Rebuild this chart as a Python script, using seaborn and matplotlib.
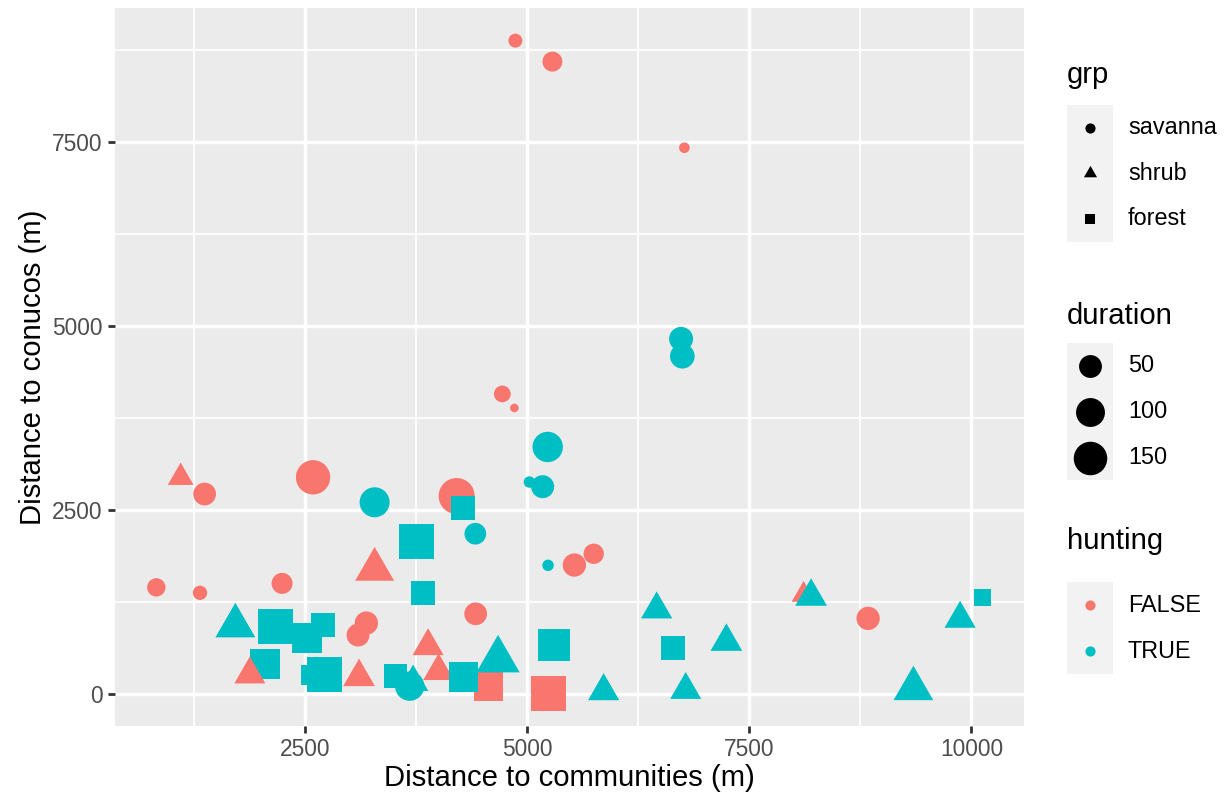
import numpy as np
import pandas as pd
import matplotlib
matplotlib.use("Agg")
import matplotlib.pyplot as plt
import seaborn as sns
from matplotlib.markers import MarkerStyle
from matplotlib.path import Path
from matplotlib.transforms import Affine2D
from matplotlib.patches import Rectangle

plt.rcParams['font.family'] = ['Liberation Sans', 'DejaVu Sans']

# ---------------- data ----------------
dist_communities = [2050,
    4865, 5282, 6768, 4718, 4854, 1096, 1366, 2587, 4204, 5747, 5529, 822, 1314,
    2238, 3280, 4418, 3187, 3093, 3882, 1875, 3105, 4001, 4561, 5242, 8111, 8837,
    6731, 6745, 5229, 5023, 5172, 3280, 4279, 4414, 3753, 5233, 3829, 1712, 2166,
    2523, 2703, 2568, 2717, 3514, 3713, 3675, 4279, 4670, 5302, 5859, 6456, 6644,
    6783, 7241, 8195, 9347, 9873, 10127]
dist_conucos = [408,
    8872, 8587, 7418, 4076, 3886, 2942, 2717, 2944, 2690, 1906, 1753, 1450, 1376,
    1504, 1693, 1091, 965, 802, 652, 268, 234, 313, 99, 11, 1349, 1029,
    4823, 4588, 3356, 2880, 2817, 2605, 2531, 2178, 2075, 1749, 1372, 928, 920,
    765, 938, 258, 268, 245, 163, 109, 235, 466, 668, 41, 1151, 629,
    58, 713, 1325, 75, 1024, 1314]
grp = ["forest",
    "savanna", "savanna", "savanna", "savanna", "savanna", "shrub", "savanna",
    "savanna", "savanna", "savanna", "savanna", "savanna", "savanna", "savanna",
    "shrub", "savanna", "savanna", "savanna", "shrub", "shrub", "shrub", "shrub",
    "forest", "forest", "shrub", "savanna",
    "savanna", "savanna", "savanna", "savanna", "savanna", "savanna", "forest",
    "savanna", "forest", "savanna", "forest", "shrub", "forest", "forest",
    "forest", "forest", "forest", "forest", "shrub", "savanna", "forest", "shrub",
    "forest", "shrub", "shrub", "forest", "shrub", "shrub", "shrub", "shrub",
    "shrub", "forest"]
hunting = [True] + [False] * 26 + [True] * 32
duration = [124,
    8, 32, 2, 17, 1, 32, 49, 160, 182, 34, 53, 24, 9, 38, 112, 49, 53, 50, 58,
    58, 62, 57, 115, 190, 25, 53,
    58, 63, 115, 3, 51, 111, 65, 42, 185, 3, 65, 120, 185, 124, 65, 37, 185,
    61, 55, 104, 118, 150, 143, 59, 59, 65, 58, 62, 62, 118, 59, 20]

grp_levels = ["savanna", "shrub", "forest"]
hunting_levels = ["FALSE", "TRUE"]
hunting_colors = ["#F8766D", "#00BFC4"]
duration_breaks = [50, 100, 150]

df = pd.DataFrame({
    "dist_communities": dist_communities,
    "dist_conucos": dist_conucos,
    "grp": grp,
    "hunting": ["TRUE" if h else "FALSE" for h in hunting],
    "duration": duration,
})

# ---------------- ggplot-like shapes and size scale ----------------
TOP = 0.583
circle_ms = MarkerStyle("o", transform=Affine2D().scale(0.39 / TOP))
square_ms = MarkerStyle("s", transform=Affine2D().scale(0.375 / TOP))
tri_path = Path([(0, 0.583), (-0.505, -0.292), (0.505, -0.292), (0, 0.583)],
                [Path.MOVETO, Path.LINETO, Path.LINETO, Path.CLOSEPOLY])
tri_ms = MarkerStyle(tri_path)
shape_map = {"savanna": circle_ms, "shrub": tri_ms, "forest": square_ms}

F0, F1 = 11.0, 47.0
dmin, dmax = min(duration), max(duration)


def area_from_F(F):
    return (2 * TOP * 0.72 * F) ** 2


def marker_area(d):
    t = (d - dmin) / (dmax - dmin)
    return area_from_F(F0 + (F1 - F0) * np.sqrt(t))


sizes = {d: marker_area(d) for d in sorted(set(duration))}

# ---------------- figure ----------------
W, H = 1225, 798
fig = plt.figure(figsize=(W / 100, H / 100), dpi=100)
pl, pr, pt, pb = 115, 1024, 8, 726
ax = fig.add_axes([pl / W, 1 - pb / H, (pr - pl) / W, (pb - pt) / H])

sns.scatterplot(data=df, x="dist_communities", y="dist_conucos",
                hue="hunting", hue_order=hunting_levels,
                palette=dict(zip(hunting_levels, hunting_colors)),
                style="grp", style_order=grp_levels, markers=shape_map,
                size="duration", sizes=sizes,
                linewidth=0, edgecolor="none", legend=False, ax=ax)

xr = max(dist_communities) - min(dist_communities)
yr = max(dist_conucos) - min(dist_conucos)
ax.set_xlim(min(dist_communities) - 0.05 * xr, max(dist_communities) + 0.05 * xr)
ax.set_ylim(min(dist_conucos) - 0.05 * yr, max(dist_conucos) + 0.05 * yr)

ax.set_facecolor("#EBEBEB")
for s in ax.spines.values():
    s.set_visible(False)
ax.set_xticks([2500, 5000, 7500, 10000])
ax.set_xticklabels(["2500", "5000", "7500", "10000"])
ax.set_yticks([0, 2500, 5000, 7500])
ax.set_yticklabels(["0", "2500", "5000", "7500"])
ax.set_xticks([1250, 3750, 6250, 8750], minor=True)
ax.set_yticks([1250, 3750, 6250, 8750], minor=True)
ax.set_axisbelow(True)
ax.grid(which="major", color="white", linewidth=2.5)
ax.grid(which="minor", color="white", linewidth=1.25)
ax.tick_params(which="major", length=5.1, width=2.0, color="#333333",
               labelsize=16.4, labelcolor="#4D4D4D", pad=3.8)
ax.tick_params(which="minor", length=0)

ax.set_xlabel("Distance to communities (m)", fontsize=21.1, color="black")
ax.set_ylabel("Distance to conucos (m)", fontsize=21.1, color="black")
ax.xaxis.label.set_va("center")
ax.yaxis.label.set_va("center")
ax.xaxis.set_label_coords(0.5, (pb - 778) / (pb - pt))
ax.yaxis.set_label_coords((33 - pl) / (pr - pl), 0.5)

# ---------------- legends (ggplot style) ----------------
lax = fig.add_axes([0, 0, 1, 1])
lax.set_xlim(0, W)
lax.set_ylim(H, 0)
lax.axis("off")

kx0, kx1 = 1067, 1113
kcx = (kx0 + kx1) / 2
lab_x = 1128
key_h = 45.7
F_key = 13.0


def legend_block(title, title_y, centers, labels, markers, colors, areas):
    lax.text(kx0, title_y, title, fontsize=21.1, ha="left", va="center")
    top = centers[0] - key_h / 2
    lax.add_patch(Rectangle((kx0, top), kx1 - kx0, key_h * len(centers),
                            facecolor="#F2F2F2", edgecolor="none"))
    for cy, lab, mk, col, a in zip(centers, labels, markers, colors, areas):
        lax.scatter([kcx], [cy], s=a, marker=mk, color=col, linewidths=0)
        lax.text(lab_x, cy, lab, fontsize=16.8, ha="left", va="center")


legend_block("grp", 75, [127.5, 173, 218.5], grp_levels,
             [shape_map[g] for g in grp_levels], ["black"] * 3,
             [area_from_F(F_key)] * 3)
legend_block("duration", 316, [366, 412, 458], [str(b) for b in duration_breaks],
             [circle_ms] * 3, ["black"] * 3,
             [marker_area(b) for b in duration_breaks])
legend_block("hunting", 541, [605, 651], hunting_levels,
             [circle_ms] * 2, hunting_colors, [area_from_F(F_key)] * 2)

fig.savefig("out.png", dpi=100)
